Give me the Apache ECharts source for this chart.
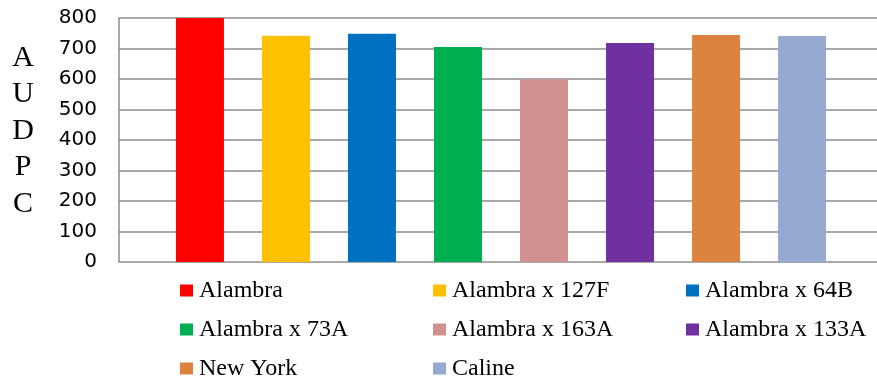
<!DOCTYPE html>
<html>
<head>
<meta charset="utf-8">
<script src="https://cdn.jsdelivr.net/npm/echarts@6/dist/echarts.min.js"></script>
<style>
  html, body { margin: 0; padding: 0; background: #ffffff; }
  #chart { width: 877px; height: 380px; }
</style>
</head>
<body>
<div id="chart"></div>
<script>
// Genotypes (one series each) and their AUDPC values
const genotypes = ['Alambra', 'Alambra x 127F', 'Alambra x 64B', 'Alambra x 73A',
                   'Alambra x 163A', 'Alambra x 133A', 'New York', 'Caline'];
const audpc = [800, 742, 748, 705, 599, 718, 744, 741];
const barColors = ['#ff0000', '#ffc000', '#0070c0', '#00b050',
                   '#d29191', '#7030a0', '#dd8340', '#95a9d1'];
const yMin = 0, yMax = 800, yStep = 100;

const chart = echarts.init(document.getElementById('chart'));

const series = genotypes.map((name, i) => ({
  name: name,
  type: 'bar',
  data: [audpc[i]],
  barWidth: 48,
  barGap: '79.2%',
  itemStyle: { color: barColors[i] },
  emphasis: { disabled: true }
}));

chart.setOption({
  animation: false,
  backgroundColor: '#ffffff',
  // plot area runs a little past the right edge of the canvas
  grid: { left: 119, top: 18, width: 764, height: 244, containLabel: false, outerBoundsMode: 'none' },
  xAxis: {
    type: 'category',
    data: [''],
    axisLine: { show: false },
    axisTick: { show: false },
    axisLabel: { show: false }
  },
  yAxis: {
    type: 'value',
    min: yMin,
    max: yMax,
    interval: yStep,
    axisLine: { show: true, lineStyle: { color: '#8c8c8c', width: 1.5 } },
    axisTick: { show: false },
    axisLabel: {
      margin: 22,
      color: '#000000',
      fontFamily: 'DejaVu Sans',
      fontSize: 20
    },
    splitLine: { lineStyle: { color: '#8c8c8c', width: 1.5 } }
  },
  legend: {
    left: 180,
    top: 271,
    width: 780,
    padding: 0,
    orient: 'horizontal',
    itemWidth: 13,
    itemHeight: 12,
    itemGap: 0,
    icon: 'rect',
    selectedMode: false,
    data: genotypes,
    textStyle: {
      color: '#000000',
      fontFamily: 'Liberation Serif',
      fontSize: 24,
      width: 234,
      lineHeight: 39,
      padding: [0, 0, 0, 1]
    }
  },
  graphic: [{
    type: 'text',
    x: 23,
    y: 131,
    style: {
      text: 'A\nU\nD\nP\nC',
      fontFamily: 'Liberation Serif',
      fontSize: 30,
      lineHeight: 36.4,
      fill: '#000000',
      align: 'center',
      verticalAlign: 'middle'
    }
  }],
  series: series
});
</script>
</body>
</html>
